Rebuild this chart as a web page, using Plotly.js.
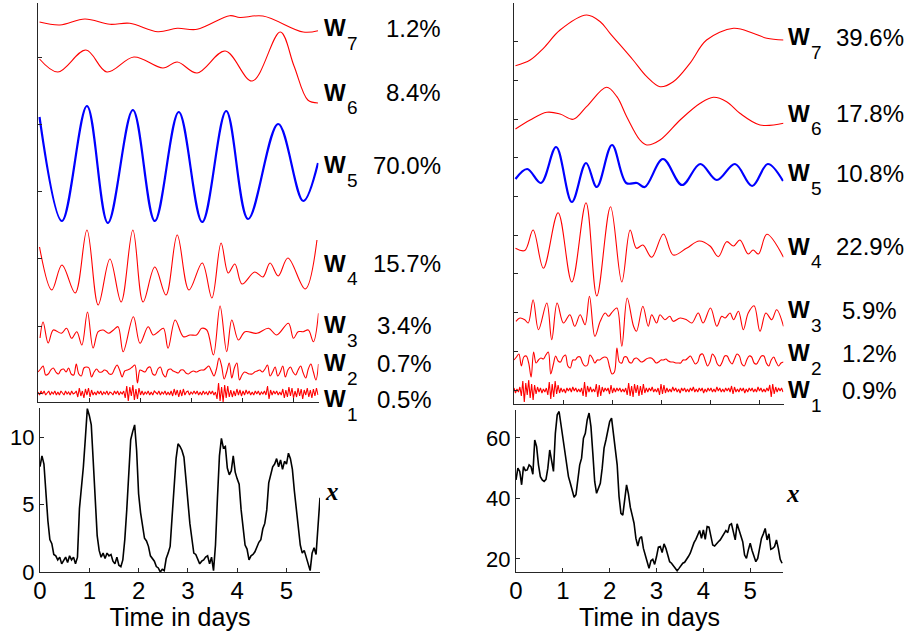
<!DOCTYPE html>
<html><head><meta charset="utf-8">
<script src="https://cdn.plot.ly/plotly-3.0.1.min.js"></script>
<style>html,body{margin:0;padding:0;background:#fff}#chart{width:910px;height:631px}</style>
</head><body><div id="chart"></div>
<script>
// ================= DATA =================
const componentNames = ['W7','W6','W5','W4','W3','W2','W1'];
const leftShares  = ['1.2%','8.4%','70.0%','15.7%','3.4%','0.7%','0.5%'];
const rightShares = ['39.6%','17.8%','10.8%','22.9%','5.9%','1.2%','0.9%'];
const dayTicks = [0,1,2,3,4,5];
const dayLabels = ['0','1','2','3','4','5'];
const leftYTicks = [0,5,10];
const rightYTicks = [20,40,60];
const xTitle = 'Time in days';
const seriesLabel = 'x';

// ---- left column: wavelet components (time in days, amplitude) ----
const leftW7_t = [0.03,0.43,0.92,1.41,1.80,2.35,2.73,3.12,3.76,3.96,4.41,5.20,5.49];
const leftW7   = [2,-1,5,-0.3,0.7,-7.7,-4.3,-5.3,8.3,6.5,8,-8,-6.7];
const leftW6_t = [0.03,0.39,0.94,1.35,1.88,2.45,2.73,3.12,3.67,4.20,4.75,5.02,5.29,5.49];
const leftW6   = [9,-4,18,-4,11,0,6,-5,17,-13,36,2,-32,-35];
const leftW5_t = [0.03,0.47,0.96,1.37,1.86,2.29,2.76,3.22,3.69,4.12,4.71,5.20,5.49];
const leftW5   = [48,-56,59,-58,55,-56,53,-57,54,-54,41,-36,2];
const leftW4_t = [0.03,0.27,0.47,0.73,0.96,1.18,1.41,1.63,1.86,2.06,2.29,2.51,2.73,2.96,3.22,3.41,3.59,3.73,3.86,4.0,4.25,4.41,4.55,4.71,4.90,5.24,5.47];
const leftW4   = [23,-20,5,-23,40,-35,11,-32,40,-32,3,-25,35,-20,7,-28,27,-3,6,-14,-2,-7,7,-6,12,-19,30];
const leftW3_t = [0.04,0.10,0.20,0.30,0.46,0.56,0.66,0.76,0.86,0.97,1.08,1.18,1.28,1.38,1.48,1.57,1.67,1.87,2.00,2.16,2.26,2.36,2.46,2.55,2.69,2.85,2.98,3.11,3.21,3.31,3.44,3.57,3.70,3.80,3.93,4.06,4.29,4.52,4.68,4.91,5.01,5.10,5.20,5.30,5.40,5.50];
const leftW3   = [-5,11,-10,3,-0.3,4.7,-5.3,1.3,-12,21,-15,1.3,3,-0.3,3,6.3,-18.7,16.3,-10.3,6.3,-2,1.3,4.7,-15.3,13,-3.7,-2,-2,4.7,3,-22,27,-18.7,13,-7,1.3,-0.3,4.7,-2,9.7,-5.3,1.3,1.3,3,-8.7,19.7];
const leftW2_dt = 0.05;
const leftW2 = [0,3,6,-3,-2,2,4,0,-2,2, 3,0,4,-2,-3,8,-2,-4,4,5, 4,-5,0,3,0,0,2,1,-2,-2, 3,7,2,-5,1,2,3,5,7,-11, 2,1,0,4,5,-2,-3,3,5,-2, -5,2,3,1,0,-1,2,2,-1,-2, 0,1,0,1,2,2,4,6,1,-4, 3,14,6,-7,0,9,-6,4,9,-8, -3,0,-1,-2,-2,0,1,2,0,3, 7,-4,0,5,-4,0,6,-5,2,5, 0,-3,2,6,-1,-6,3,8,0,-8, 8];
const leftW1_dt = 0.03;
const leftW1 = [1,-2,2,-1,2,-2,0,2,-2,1,-1,2,-2,1,-2,2,0,-2,2,-1,1,-2,2,-1,0,2,
  -4,5,-3,2,-5,4,-2,5,-4,3,-2,
  1,-2,2,-1,2,-2,1,-1,2,-2,1,0,-2,2,-1,2,-2,1,-1,2,
  -5,7,-8,6,-3,8,-7,4,-6,5,-2,
  2,-2,1,-1,2,-2,1,-2,2,0,-1,2,-2,1,-1,2,-2,1,-2,2,
  -3,4,-2,3,-4,3,-3,4,-2,1,
  2,-2,1,-1,2,-1,2,-2,1,-2,2,-1,1,-2,2,-1,2,-2,1,
  -6,10,-8,6,-9,8,-5,7,-4,
  3,-4,2,-3,4,-2,3,-3,2,-2,3,-1,2,-2,1,-2,2,-1,2,-2,1,-1,2,-2,
  7,-6,3,
  -2,2,-1,2,-2,1,-2,
  4,-5,3,-4,6,-3,5,-5,2,-4,5,-3,4,-6,3,-2,5,-4,3,-5,4,-3,5,-2];

// ---- right column: wavelet components ----
const rightW7_t = [0.03,0.33,0.60,0.94,1.48,1.76,1.96,2.43,2.71,2.98,3.25,3.59,3.93,4.48,4.88,5.16,5.50];
const rightW7   = [-13.7,-8,3.7,22,37,30.3,18.7,-8,-24.7,-34.7,-29.7,-11.3,12,23.7,18.7,13.7,12];
const rightW6_t = [0.03,0.33,0.67,0.94,1.21,1.48,1.89,2.10,2.30,2.57,2.71,2.98,3.39,3.80,4.07,4.34,4.61,5.02,5.50];
const rightW6   = [-9,0,7.7,6,0.7,13.3,32.7,23.3,3.3,-20,-25,-20,0,16.7,22.7,18.3,6.7,-5,-3.3];
const rightW5_t = [0.03,0.27,0.55,0.86,1.18,1.47,1.69,2.0,2.29,2.51,2.67,3.04,3.43,3.80,4.14,4.51,4.86,5.18,5.49];
const rightW5   = [-1,9,-5,31,-24,15,-9,33,-5,-5,-9,19,-7,14,-2,14,-8,14,-3];
const rightW4_t = [0.03,0.22,0.39,0.60,0.90,1.18,1.47,1.69,1.97,2.20,2.37,2.50,2.63,2.81,3.05,3.25,3.52,3.78,4.0,4.17,4.34,4.48,4.61,4.78,4.88,4.99,5.16,5.50];
const rightW4   = [1.7,-0.5,20,-18.3,37.3,-32,47.3,-46,43.3,-32,20,1.7,5,-7.3,16,-5,1.7,9,4,-6.7,8.3,4,10,-4,0,-4,15.7,-7.3];
const rightW3_t = [0.04,0.12,0.22,0.29,0.39,0.50,0.67,0.77,0.88,1.01,1.14,1.24,1.35,1.45,1.54,1.65,1.76,1.86,1.93,1.99,2.10,2.20,2.31,2.44,2.50,2.63,2.74,2.81,2.91,2.98,3.08,3.18,3.25,3.39,3.52,3.63,3.76,3.86,4.01,4.14,4.24,4.31,4.41,4.48,4.58,4.68,4.78,4.90,5.02,5.14,5.26,5.36,5.50];
const rightW3   = [-3.3,0,-1.7,-5,18.3,-11.7,15,-21.7,15,-5,3.3,-8.3,3.3,-6.7,21.7,-18.3,-3.3,5,1.7,5,10,-28.3,20,-8.3,-13.3,11.7,-8.3,3.3,-5,3.3,-1.7,1.7,-3.3,0,-1.7,-5,5,-5,10,-8.3,1.7,0,5,-1.7,6.7,-11.7,5,12.3,-13.3,5,-1.7,8.3,-8.3];
const rightW2_dt = 0.05;
const rightW2 = [0,3,6,-6,3,4,-3,-17,8,-3, 0,2,1,5,8,-14,-5,4,-1,-2, 3,5,-6,-8,0,0,3,3,-3,-6, -5,5,2,-3,0,0,2,3,2,-7, -14,-12,12,-2,-3,3,3,-2,-3,1, 2,0,-2,-1,1,2,2,0,-3,-2, 0,0,1,-1,-2,-2,-3,-3,-3,0, 0,2,4,0,-4,-2,5,6,0,-6, -2,6,3,-4,-6,-2,4,4,-1,-4, 1,6,4,-4,-6,0,4,3,-3,-4, 0,4,4,-3,-6,0,3,-2,-6,-3, -2];
const rightW1_dt = 0.03;
const rightW1 = [2,-3,1,-2,3,
  -6,9,-12,7,-5,10,-8,6,-10,5,-4,3,
  -2,2,-3,1,-2,2,
  -5,8,-9,6,-7,9,-4,5,-3,
  2,-2,1,-3,2,-1,2,-2,3,-1,2,-2,1,-2,2,
  -6,8,-7,4,
  -2,3,-2,1,-2,
  6,-7,5,-6,3,
  -2,2,-1,2,
  -4,5,-3,2,
  -2,2,-1,2,-2,1,-2,2,
  -5,7,-6,4,-7,6,-3,5,-6,4,-5,6,-3,2,
  -2,2,-1,3,-2,1,-2,2,
  -5,6,-4,5,-3,
  2,-2,1,-2,3,-1,2,-2,1,-3, 2,-1,2,-2,1,-2,2,-1,3,-2, 1,-2,2,-1,2,-3,1,-2,2,-1, 2,-2,1,-2,3,-1,2,-2,1,-2, 2,-1,2,-2,4,-4,3,-2,1,-2, 2,-1,2,-3,1,-2,2,-1,2,-2, 1,-2,3,-1,2,-2,1,-2,2,-1,
  5,-7,6,-4,3,
  -2,2,-1,2,-2];

// ---- bottom panels: observed series x ----
const series_dt = 0.04;
const leftX = [7.8,8.6,8.0,5.8,3.8,2.4,2.1,1.3,1.2,0.9, 1.1,0.6,0.9,1.1,0.7,1.2,0.9,1.1,0.6,1.1,
  4.7,6.2,7.8,9.9,12.1,11.6,10.9,8.2,5.3,2.7, 1.6,1.1,1.4,1.0,1.4,1.2,1.3,0.8,0.6,1.1,
  0.5,0.4,0.9,2.4,4.6,7.5,9.8,10.4,10.9,9.0, 5.8,4.4,3.4,2.5,2.3,1.9,1.2,1.0,0.8,0.4,
  0.3,0.0,0.2,0.1,1.0,1.4,1.9,4.1,6.6,8.4, 9.5,9.3,9.0,8.5,6.9,5.0,3.6,2.5,1.4,1.3,
  1.0,0.6,0.8,0.9,1.1,1.2,0.6,1.1,0.1,2.0, 5.5,8.6,9.9,9.2,9.3,7.7,7.2,7.5,8.6,7.4,
  6.9,6.5,4.6,3.2,2.0,1.7,0.9,1.2,1.3,1.5, 1.9,2.2,2.4,3.2,3.6,4.6,6.6,7.3,7.8,8.0,
  8.4,7.8,8.3,7.6,8.2,8.0,8.8,8.4,7.6,6.0, 4.6,3.5,2.0,1.4,1.6,1.1,0.6,0.1,1.4,1.8,
  1.3,3.6,5.5];
const rightX = [46.1,50.0,48.9,44.5,50.5,49.2,49.4,51.1,50.5,48.0, 59.3,57.1,51.1,47.2,46.1,45.6,46.3,50.0,56.0,52.7,
  48.9,61.5,67.6,68.7,64.3,59.3,54.9,50.0,47.2,45.0, 42.8,40.4,41.2,47.2,51.1,53.3,59.9,61.5,65.9,68.2,
  63.7,54.9,45.6,41.7,43.7,45.0,50.0,56.6,59.3,62.1, 65.4,66.5,61.0,56.0,51.1,40.6,35.1,34.5,40.1,44.5,
  41.5,37.1,34.5,31.8,26.8,24.3,26.8,27.4,23.5,20.8, 19.1,16.9,19.4,19.9,18.2,20.8,23.9,24.1,22.1,25.0,
  23.5,21.3,19.1,18.6,17.7,16.9,16.1,16.9,17.7,18.6, 18.9,19.7,20.8,21.9,24.1,25.4,26.5,27.9,29.4,26.8,
  29.6,26.5,30.7,30.5,27.9,24.6,24.3,25.2,25.7,26.3, 27.4,28.5,29.4,28.7,31.2,31.6,28.7,26.3,31.6,29.4,
  27.9,25.7,21.3,20.2,23.0,25.2,22.8,20.6,19.1,20.2, 23.5,26.8,28.3,30.1,26.3,28.3,23.2,23.5,24.1,26.3,
  23.5,19.9,18.6];

// ================= LAYOUT HELPERS (positions / styles) =================
const W = 910, H = 631;
const X = px => px / W;
const Y = py => 1 - py / H;
const grid = (n, dt) => Array.from({length: n}, (_, i) => +(i * dt).toFixed(4));
const RED = '#ff0000', BLUE = '#0000ff', AX = '#262626';
const FONT = 'Liberation Sans, Arial, Helvetica, sans-serif';

// stacking baselines (axis units) for W7..W1
const leftBase  = [378, 334, 237, 132, 69, 30, 9];
const rightBase = [352, 284, 226, 154, 86, 44, 14];

function comp(t, v, base, color, width, xa, ya, shape) {
  return {type: 'scatter', mode: 'lines', x: t, y: v.map(d => d + base),
          xaxis: xa, yaxis: ya, hoverinfo: 'skip',
          line: {color: color, width: width, shape: shape || 'spline', smoothing: 1}};
}

const leftComps = [
  [leftW7_t, leftW7], [leftW6_t, leftW6], [leftW5_t, leftW5], [leftW4_t, leftW4],
  [leftW3_t, leftW3], [grid(leftW2.length, leftW2_dt), leftW2], [grid(leftW1.length, leftW1_dt), leftW1]];
const rightComps = [
  [rightW7_t, rightW7], [rightW6_t, rightW6], [rightW5_t, rightW5], [rightW4_t, rightW4],
  [rightW3_t, rightW3], [grid(rightW2.length, rightW2_dt), rightW2], [grid(rightW1.length, rightW1_dt), rightW1]];

const data = [];
leftComps.forEach((c, k) => {
  const blue = componentNames[k] === 'W5';
  data.push(comp(c[0], c[1], leftBase[k], blue ? BLUE : RED, blue ? 2.2 : 1.1, 'x', 'y', k === 6 ? 'linear' : 'spline'));
});
rightComps.forEach((c, k) => {
  const blue = componentNames[k] === 'W5';
  data.push(comp(c[0], c[1], rightBase[k], blue ? BLUE : RED, blue ? 2.2 : 1.1, 'x3', 'y3', k === 6 ? 'linear' : 'spline'));
});
data.push({type: 'scatter', mode: 'lines', x: grid(leftX.length, series_dt), y: leftX,
           xaxis: 'x2', yaxis: 'y2', line: {color: '#000', width: 1.6}, hoverinfo: 'skip'});
data.push({type: 'scatter', mode: 'lines', x: grid(rightX.length, series_dt), y: rightX,
           xaxis: 'x4', yaxis: 'y4', line: {color: '#000', width: 1.6}, hoverinfo: 'skip'});

const baseAxis = {showline: true, linecolor: AX, linewidth: 1, ticks: 'inside', ticklen: 4,
                  tickcolor: AX, tickwidth: 1, showgrid: false, zeroline: false, fixedrange: true};
const topTicksL = [344.7, 277.5, 210.3, 143.1, 75.9, 8.7];
const topTicksR = [401, 362.3, 323.6, 284.9, 246.2, 207.5, 168.8, 130.1, 91.4, 52.7, 14];

const layout = {
  width: W, height: H, margin: {l: 0, r: 0, t: 0, b: 0},
  paper_bgcolor: '#fff', plot_bgcolor: 'rgba(0,0,0,0)', showlegend: false,
  font: {family: FONT, color: '#000'},
  xaxis:  Object.assign({}, baseAxis, {domain: [X(38), X(318.5)], range: [0, 5.5], anchor: 'y',
           tickvals: dayTicks, showticklabels: false}),
  yaxis:  Object.assign({}, baseAxis, {domain: [Y(402), Y(3)], range: [0, 399], anchor: 'x',
           tickvals: topTicksL, showticklabels: false}),
  xaxis2: Object.assign({}, baseAxis, {domain: [X(40), X(320)], range: [0, 5.68], anchor: 'y2',
           tickvals: dayTicks, ticktext: dayLabels, tickfont: {size: 24, family: FONT}, ticklabelstandoff: -3,
           title: {text: xTitle, font: {size: 25, family: FONT}, standoff: 0}}),
  yaxis2: Object.assign({}, baseAxis, {domain: [Y(572), Y(408)], range: [0, 12.15], anchor: 'x2',
           tickvals: leftYTicks, tickfont: {size: 22, family: FONT}}),
  xaxis3: Object.assign({}, baseAxis, {domain: [X(514), X(783.5)], range: [0, 5.5], anchor: 'y3',
           tickvals: dayTicks, showticklabels: false}),
  yaxis3: Object.assign({}, baseAxis, {domain: [Y(404), Y(3)], range: [0, 401], anchor: 'x3',
           tickvals: topTicksR, showticklabels: false}),
  xaxis4: Object.assign({}, baseAxis, {domain: [X(516), X(783)], range: [0, 5.7], anchor: 'y4',
           tickvals: dayTicks, ticktext: dayLabels, tickfont: {size: 24, family: FONT}, ticklabelstandoff: -3,
           title: {text: xTitle, font: {size: 25, family: FONT}, standoff: 0}}),
  yaxis4: Object.assign({}, baseAxis, {domain: [Y(572), Y(410)], range: [15.7, 69.2], anchor: 'x4',
           tickvals: rightYTicks, tickfont: {size: 22, family: FONT}}),
  annotations: []
};

function ann(text, px, py, xanchor, size, extra) {
  layout.annotations.push(Object.assign({text: text, xref: 'paper', yref: 'paper',
    x: X(px), y: Y(py), xanchor: xanchor, yanchor: 'middle', showarrow: false,
    font: {size: size, family: FONT, color: '#000'}, borderpad: 0}, extra || {}));
}

const leftWy  = [28.3, 92.5, 165, 263.5, 325, 363, 399];
const rightWy = [37.5, 113.5, 173.5, 246.5, 310, 353.5, 390];
componentNames.forEach((name, k) => {
  const letter = name.charAt(0), idx = name.slice(1);
  ann('<b>' + letter + '</b>', 322.5, leftWy[k], 'left', 23);
  ann(idx, 346, leftWy[k] + 15, 'left', 19);
  ann(leftShares[k], k < 4 ? 442 : 433, leftWy[k], 'right', 24);
  ann('<b>' + letter + '</b>', 786.5, rightWy[k], 'left', 23);
  ann(idx, 810, rightWy[k] + 15, 'left', 19);
  ann(rightShares[k], k < 4 ? 905 : 898, rightWy[k], 'right', 24);
});
ann('<b><i>' + seriesLabel + '</i></b>', 332, 491.5, 'center', 25, {font: {size: 25, family: 'Liberation Serif, Times New Roman, serif', color: '#000'}});
ann('<b><i>' + seriesLabel + '</i></b>', 793, 493.5, 'center', 25, {font: {size: 25, family: 'Liberation Serif, Times New Roman, serif', color: '#000'}});

Plotly.newPlot('chart', data, layout, {staticPlot: true, displayModeBar: false});
</script>
</body></html>
